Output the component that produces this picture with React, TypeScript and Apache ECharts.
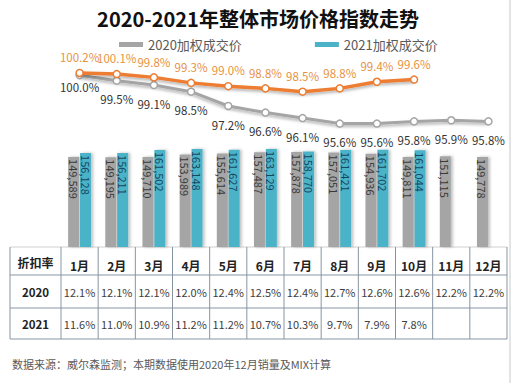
import React, { useEffect, useRef } from "react";
import * as echarts from "echarts";

const months = ["1月", "2月", "3月", "4月", "5月", "6月", "7月", "8月", "9月", "10月", "11月", "12月"];
const price2020 = [149589, 149195, 149710, 153989, 155614, 157487, 157878, 157051, 154936, 149811, 151115, 149778];
const price2021 = [156128, 156211, 161502, 163148, 161627, 163129, 158770, 161421, 161702, 161044];
const index2020 = [100.0, 99.5, 99.1, 98.5, 97.2, 96.6, 96.1, 95.6, 95.6, 95.8, 95.9, 95.8];
const index2021 = [100.2, 100.1, 99.8, 99.3, 99.0, 98.8, 98.5, 98.8, 99.4, 99.6];
const rate2020 = ["12.1%", "12.1%", "12.1%", "12.0%", "12.4%", "12.5%", "12.4%", "12.7%", "12.6%", "12.6%", "12.2%", "12.2%"];
const rate2021 = ["11.6%", "11.0%", "10.9%", "11.2%", "11.2%", "10.7%", "10.3%", "9.7%", "7.9%", "7.8%", "", ""];

const FONT = '"Noto Sans CJK SC", "Noto Sans", sans-serif';
const GREY = "#a5a5a5";
const CYAN = "#4bb3c8";
const ORANGE = "#ed7d31";

export default function App() {
  const ref = useRef<HTMLDivElement>(null);
  useEffect(() => {
    if (!ref.current) return;
    const chart = echarts.init(ref.current, null, { renderer: "svg" });
    const gridLeft = 61;
    const gridRight = 507;
    const colW = (gridRight - gridLeft) / months.length;
    const tTop = 247, tH1 = 275, tH2 = 308, tBottom = 339, tLeft = 10;
    const lineColor = "#8795a3";
    const g: any[] = [];
    [tTop, tH1, tH2, tBottom].forEach((y, i) => {
      g.push({ type: "line", shape: { x1: tLeft, y1: y, x2: gridRight, y2: y }, style: { stroke: i === 0 ? "#d0d0d0" : lineColor, lineWidth: 1 } });
    });
    const vx = [tLeft, gridLeft];
    for (let i = 1; i <= months.length; i++) vx.push(gridLeft + i * colW);
    vx.forEach((x) => {
      g.push({ type: "line", shape: { x1: x, y1: tTop, x2: x, y2: tBottom }, style: { stroke: lineColor, lineWidth: 1 } });
    });
    const txt = (x: number, y: number, s: string, size: number, bold: boolean, color: string) => ({
      type: "text",
      x, y,
      style: { text: s, fontSize: size, fontWeight: bold ? "bold" : "normal", fill: color, fontFamily: FONT, align: "center", verticalAlign: "middle" },
    });
    g.push(txt((tLeft + gridLeft) / 2, 262, "折扣率", 12, true, "#222"));
    g.push(txt((tLeft + gridLeft) / 2, 292, "2020", 11.5, true, "#222"));
    g.push(txt((tLeft + gridLeft) / 2, 324, "2021", 11.5, true, "#222"));
    months.forEach((m, i) => {
      const cx = gridLeft + (i + 0.5) * colW;
      g.push(txt(cx, 265, m, 12, true, "#222"));
      g.push(txt(cx, 292, rate2020[i], 11, false, "#404040"));
      if (rate2021[i]) g.push(txt(cx, 324, rate2021[i], 11, false, "#404040"));
    });
    g.push({ type: "text", x: 12, y: 364, style: { text: "数据来源：威尔森监测；本期数据使用2020年12月销量及MIX计算", fontSize: 11, fill: "#595959", fontFamily: FONT, verticalAlign: "middle" } });
    g.push({ type: "line", shape: { x1: 510, y1: 0, x2: 510, y2: 383 }, style: { stroke: "#c8c8c8", lineWidth: 1 } });

    const barLabel = (color: string) => ({
      show: true,
      position: "insideTop",
      rotate: -90,
      align: "left",
      verticalAlign: "middle",
      distance: 2,
      fontSize: 11,
      color,
      fontFamily: FONT,
      formatter: (p: any) => Number(p.value).toLocaleString("en-US"),
    });

    chart.setOption({
      animation: false,
      backgroundColor: "#fff",
      textStyle: { fontFamily: FONT },
      title: {
        text: "2020-2021年整体市场价格指数走势",
        left: "center",
        top: 6,
        padding: 0,
        textStyle: { fontSize: 20, fontWeight: "bold", color: "#111", fontFamily: FONT, lineHeight: 24 },
      },
      legend: {
        data: ["2020加权成交价", "2021加权成交价"],
        left: 119,
        top: 38,
        icon: "rect",
        itemWidth: 24,
        itemHeight: 5,
        itemGap: 73,
        padding: 0,
        textStyle: { fontSize: 13, color: "#595959", fontFamily: FONT, lineHeight: 13 },
      },
      grid: { left: gridLeft, right: 516 - gridRight, top: 60, bottom: 383 - tTop },
      xAxis: {
        type: "category",
        data: months,
        axisLine: { show: false },
        axisTick: { show: false },
        axisLabel: { show: false },
      },
      yAxis: [
        { type: "value", min: 0, max: 311000, show: false, splitLine: { show: false } },
        { type: "value", min: 84.38, max: 101.38, show: false, splitLine: { show: false } },
      ],
      series: [
        {
          name: "2020加权成交价",
          type: "bar",
          data: price2020,
          barWidth: 11,
          barGap: "8%",
          itemStyle: { color: GREY, shadowColor: "rgba(0,0,0,0.25)", shadowBlur: 3, shadowOffsetX: 2 },
          label: barLabel("#3a3a3a"),
        },
        {
          name: "2021加权成交价",
          type: "bar",
          data: price2021,
          barWidth: 11,
          itemStyle: { color: CYAN, shadowColor: "rgba(0,0,0,0.25)", shadowBlur: 3, shadowOffsetX: 2 },
          label: barLabel("#17465f"),
        },
        {
          name: "2020指数",
          type: "line",
          yAxisIndex: 1,
          data: index2020.map((v, i) => (i === 0 ? { value: v, label: { distance: 1 } } : v)),
          symbol: "circle",
          symbolSize: 7,
          lineStyle: { color: GREY, width: 3, shadowColor: "rgba(0,0,0,0.3)", shadowBlur: 3, shadowOffsetY: 2 },
          itemStyle: { color: "#fff", borderColor: GREY, borderWidth: 1.5 },
          label: {
            show: true,
            position: "bottom",
            distance: 8,
            fontSize: 11.5,
            lineHeight: 13,
            color: "#333",
            fontFamily: FONT,
            formatter: (p: any) => Number(p.value).toFixed(1) + "%",
          },
          z: 5,
        },
        {
          name: "2021指数",
          type: "line",
          yAxisIndex: 1,
          data: index2021,
          symbol: "circle",
          symbolSize: 7,
          lineStyle: { color: ORANGE, width: 3.5, shadowColor: "rgba(0,0,0,0.3)", shadowBlur: 3, shadowOffsetY: 2 },
          itemStyle: { color: "#fff", borderColor: ORANGE, borderWidth: 1.5 },
          label: {
            show: true,
            position: "top",
            distance: 5,
            fontSize: 11.5,
            lineHeight: 13,
            color: "#e8923f",
            fontFamily: FONT,
            formatter: (p: any) => Number(p.value).toFixed(1) + "%",
          },
          z: 6,
        },
      ],
      graphic: g,
    });
    return () => chart.dispose();
  }, []);
  return <div ref={ref} style={{ position: "fixed", left: 0, top: 0, width: 516, height: 383, background: "#fff" }} />;
}
